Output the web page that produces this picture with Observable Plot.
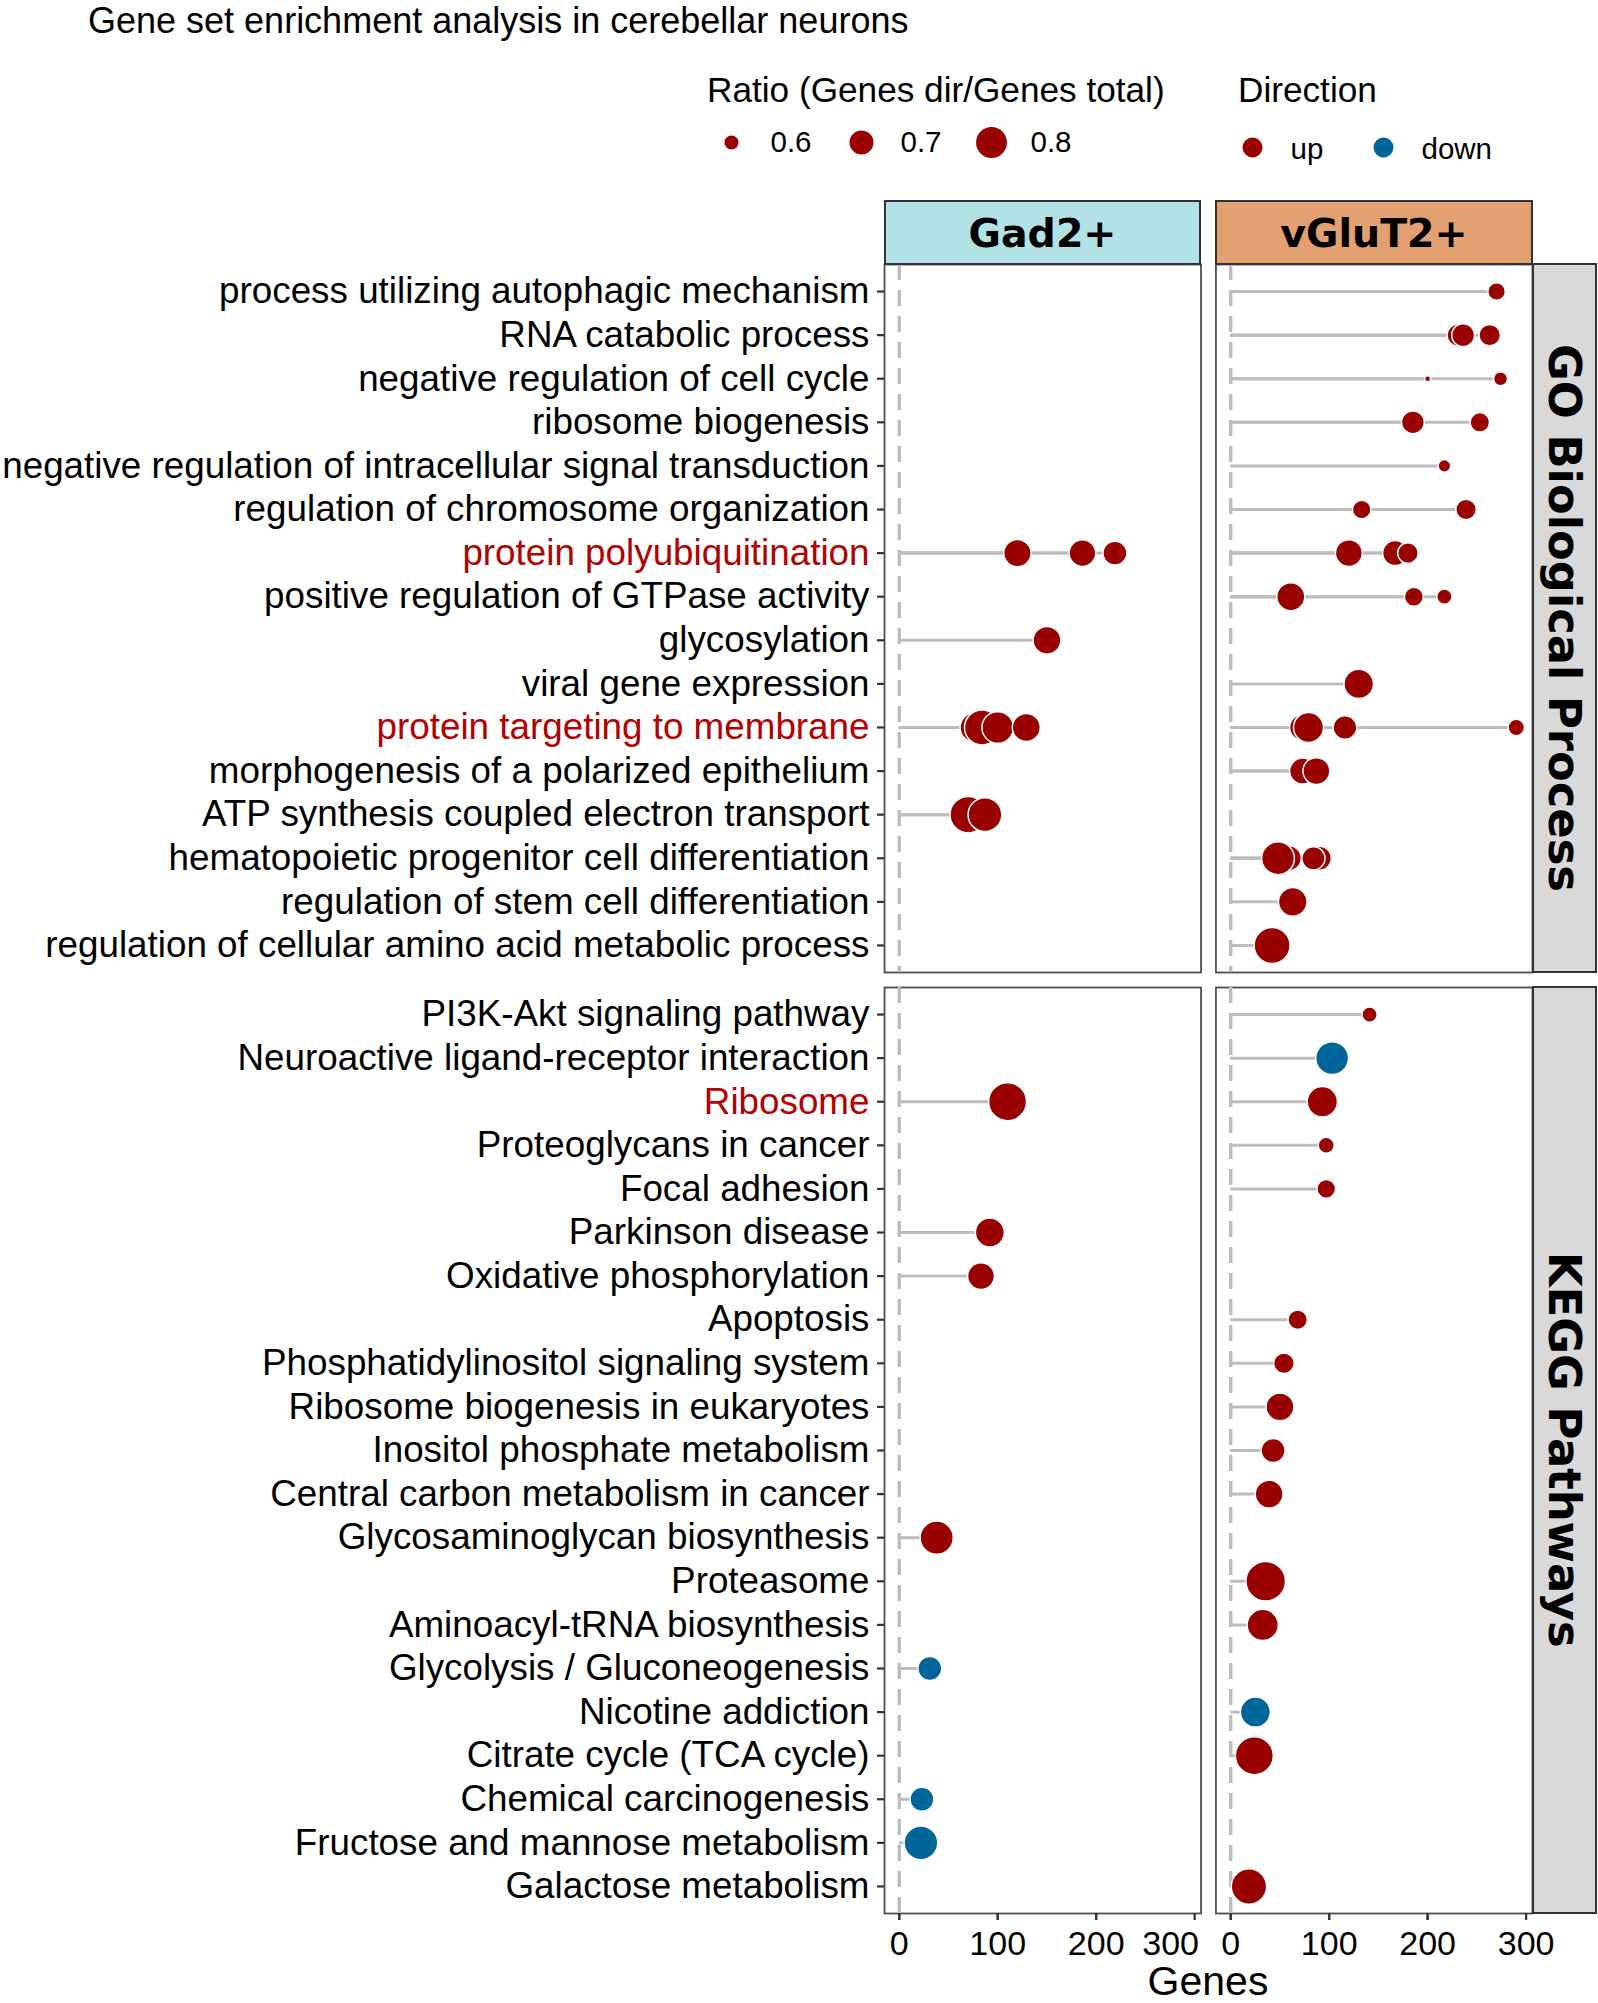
<!DOCTYPE html>
<html>
<head>
<meta charset="utf-8">
<script src="https://cdn.jsdelivr.net/npm/d3@7"></script>
<script src="https://cdn.jsdelivr.net/npm/@observablehq/plot@0.6"></script>
<style>
  body { margin: 0; background: #fff; }
  #root { position: relative; width: 1598px; height: 2003px; overflow: hidden; background: #fff;
          font-family: "Liberation Sans", Arial, Helvetica, sans-serif; color: #000; }
  .abs { position: absolute; white-space: nowrap; line-height: 1; }
  .strip { position: absolute; box-sizing: border-box; border: 2.5px solid #333;
           font-family: "DejaVu Sans", sans-serif; font-weight: bold; display: flex;
           align-items: center; justify-content: center; color: #000; }
  .stripTop { font-size: 39.5px; }
  .stripRight { background: #D9D9D9; font-size: 44.8px; writing-mode: vertical-rl; }
  #root svg { position: absolute; }
</style>
</head>
<body>
<div id="root"></div>
<script>
// ---------------- data ----------------
const cells = ["Gad2+", "vGluT2+"];

const goTerms = [
  "process utilizing autophagic mechanism",
  "RNA catabolic process",
  "negative regulation of cell cycle",
  "ribosome biogenesis",
  "negative regulation of intracellular signal transduction",
  "regulation of chromosome organization",
  "protein polyubiquitination",
  "positive regulation of GTPase activity",
  "glycosylation",
  "viral gene expression",
  "protein targeting to membrane",
  "morphogenesis of a polarized epithelium",
  "ATP synthesis coupled electron transport",
  "hematopoietic progenitor cell differentiation",
  "regulation of stem cell differentiation",
  "regulation of cellular amino acid metabolic process"
];

const keggTerms = [
  "PI3K-Akt signaling pathway",
  "Neuroactive ligand-receptor interaction",
  "Ribosome",
  "Proteoglycans in cancer",
  "Focal adhesion",
  "Parkinson disease",
  "Oxidative phosphorylation",
  "Apoptosis",
  "Phosphatidylinositol signaling system",
  "Ribosome biogenesis in eukaryotes",
  "Inositol phosphate metabolism",
  "Central carbon metabolism in cancer",
  "Glycosaminoglycan biosynthesis",
  "Proteasome",
  "Aminoacyl-tRNA biosynthesis",
  "Glycolysis / Gluconeogenesis",
  "Nicotine addiction",
  "Citrate cycle (TCA cycle)",
  "Chemical carcinogenesis",
  "Fructose and mannose metabolism",
  "Galactose metabolism"
];

const highlighted = ["protein polyubiquitination", "protein targeting to membrane", "Ribosome"];

// [term, genes, ratio, direction]
const goGad2 = [
  ["protein polyubiquitination", 120, 0.747, "up"],
  ["protein polyubiquitination", 186, 0.736, "up"],
  ["protein polyubiquitination", 219, 0.70, "up"],
  ["glycosylation", 150, 0.753, "up"],
  ["protein targeting to membrane", 77, 0.787, "up"],
  ["protein targeting to membrane", 84, 0.873, "up"],
  ["protein targeting to membrane", 100, 0.813, "up"],
  ["protein targeting to membrane", 129, 0.756, "up"],
  ["ATP synthesis coupled electron transport", 70, 0.90, "up"],
  ["ATP synthesis coupled electron transport", 87, 0.85, "up"]
];

const goVglut2 = [
  ["process utilizing autophagic mechanism", 270, 0.63, "up"],
  ["RNA catabolic process", 231, 0.68, "up"],
  ["RNA catabolic process", 236, 0.686, "up"],
  ["RNA catabolic process", 263, 0.67, "up"],
  ["negative regulation of cell cycle", 200, 0.558, "up"],
  ["negative regulation of cell cycle", 274, 0.60, "up"],
  ["ribosome biogenesis", 185, 0.686, "up"],
  ["ribosome biogenesis", 253, 0.648, "up"],
  ["negative regulation of intracellular signal transduction", 217, 0.59, "up"],
  ["regulation of chromosome organization", 133, 0.64, "up"],
  ["regulation of chromosome organization", 239, 0.66, "up"],
  ["protein polyubiquitination", 120, 0.74, "up"],
  ["protein polyubiquitination", 167, 0.714, "up"],
  ["protein polyubiquitination", 180, 0.66, "up"],
  ["positive regulation of GTPase activity", 61, 0.756, "up"],
  ["positive regulation of GTPase activity", 186, 0.644, "up"],
  ["positive regulation of GTPase activity", 217, 0.61, "up"],
  ["viral gene expression", 130, 0.778, "up"],
  ["protein targeting to membrane", 73, 0.727, "up"],
  ["protein targeting to membrane", 79, 0.787, "up"],
  ["protein targeting to membrane", 116, 0.696, "up"],
  ["protein targeting to membrane", 290, 0.62, "up"],
  ["morphogenesis of a polarized epithelium", 73, 0.727, "up"],
  ["morphogenesis of a polarized epithelium", 87, 0.74, "up"],
  ["hematopoietic progenitor cell differentiation", 59, 0.714, "up"],
  ["hematopoietic progenitor cell differentiation", 90, 0.70, "up"],
  ["hematopoietic progenitor cell differentiation", 48, 0.834, "up"],
  ["hematopoietic progenitor cell differentiation", 84, 0.69, "up"],
  ["regulation of stem cell differentiation", 63, 0.765, "up"],
  ["regulation of cellular amino acid metabolic process", 42, 0.89, "up"]
];

const keggGad2 = [
  ["Ribosome", 110, 0.93, "up"],
  ["Parkinson disease", 92, 0.77, "up"],
  ["Oxidative phosphorylation", 83, 0.74, "up"],
  ["Glycosaminoglycan biosynthesis", 38, 0.84, "up"],
  ["Glycolysis / Gluconeogenesis", 31, 0.70, "down"],
  ["Chemical carcinogenesis", 23, 0.70, "down"],
  ["Fructose and mannose metabolism", 22, 0.85, "down"]
];

const keggVglut2 = [
  ["PI3K-Akt signaling pathway", 141, 0.61, "up"],
  ["Neuroactive ligand-receptor interaction", 103, 0.834, "down"],
  ["Ribosome", 93, 0.79, "up"],
  ["Proteoglycans in cancer", 97, 0.616, "up"],
  ["Focal adhesion", 97, 0.64, "up"],
  ["Apoptosis", 68, 0.648, "up"],
  ["Phosphatidylinositol signaling system", 54, 0.66, "up"],
  ["Ribosome biogenesis in eukaryotes", 50, 0.753, "up"],
  ["Inositol phosphate metabolism", 43, 0.70, "up"],
  ["Central carbon metabolism in cancer", 39, 0.753, "up"],
  ["Proteasome", 35.5, 0.964, "up"],
  ["Aminoacyl-tRNA biosynthesis", 32.5, 0.806, "up"],
  ["Nicotine addiction", 25, 0.787, "down"],
  ["Citrate cycle (TCA cycle)", 24, 0.93, "up"],
  ["Galactose metabolism", 18.5, 0.88, "up"]
];

const ratioKeys = [0.6, 0.7, 0.8];
const directions = ["up", "down"];
const directionColors = ["#990000", "#006699"];
const xTicks = [0, 100, 200, 300];

// ---------------- helpers ----------------
const FONT = '"Liberation Sans", Arial, Helvetica, sans-serif';
const RATIO_BASE = 0.548;
const rScale = {type: "sqrt", domain: [0, 0.45], range: [0, 20.6]};
const colorScale = {domain: directions, range: directionColors};
const xScale = {domain: [-15, 306.5], round: false};
const fxScale = {domain: cells, paddingInner: 0.045, paddingOuter: 0, axis: null, round: false};

const toRows = (arr, cell) => arr.map(([term, genes, ratio, dir]) => ({term, genes, ratio, dir, cell}));
const goRows = [...toRows(goGad2, "Gad2+"), ...toRows(goVglut2, "vGluT2+")];
const keggRows = [...toRows(keggGad2, "Gad2+"), ...toRows(keggVglut2, "vGluT2+")];

const root = document.getElementById("root");
function place(el, left, top) { el.style.left = left + "px"; el.style.top = top + "px"; root.appendChild(el); return el; }
function div(cls, text, css) { const d = document.createElement("div"); d.className = cls; d.textContent = text; Object.assign(d.style, css); root.appendChild(d); return d; }

function panel(terms, rows, {height, marginTop, marginBottom, xAxis}) {
  const normal = terms.filter(t => !highlighted.includes(t));
  const hi = terms.filter(t => highlighted.includes(t));
  const yAxisOpts = {tickSize: 7, tickPadding: 8, fontSize: 36.8, stroke: "#333", strokeWidth: 2.2, label: null};
  const marks = [
    Plot.frame({stroke: "#4d4d4d", strokeWidth: 1.8}),
    Plot.ruleX([0], {stroke: "#bdbdbd", strokeWidth: 3.4, strokeDasharray: "16,10"}),
    Plot.ruleY(rows, {fx: "cell", y: "term", x1: 0, x2: "genes", stroke: "#bdbdbd", strokeWidth: 3}),
    Plot.dot(rows, {fx: "cell", x: "genes", y: "term", r: d => d.ratio - RATIO_BASE, fill: "dir",
                    stroke: "white", strokeWidth: 1.5, sort: null}),
    Plot.axisY({ticks: normal, color: "#000", ...yAxisOpts})
  ];
  if (hi.length) marks.push(Plot.axisY({ticks: hi, color: "#b30000", ...yAxisOpts}));
  if (xAxis) {
    const axisBase = {tickSize: 7, stroke: "#333", strokeWidth: 2.2, label: null};
    marks.push(Plot.axisX({ticks: xTicks, tickFormat: () => "", ...axisBase}));
    marks.push(Plot.axisX({ticks: xTicks.filter(v => v < 300), tickPadding: 10, fontSize: 34, color: "#000", ...axisBase}));
    const last = cells.map(c => ({cell: c, tick: xTicks[xTicks.length - 1]}));
    const tOpts = {fx: "cell", x: "tick", text: d => String(d.tick), frameAnchor: "bottom", lineAnchor: "top",
                   dy: 17, fontSize: 34, fill: "#000"};
    marks.push(Plot.text(last.filter(d => d.cell === cells[0]), {...tOpts, dx: -24}));
    marks.push(Plot.text(last.filter(d => d.cell !== cells[0]), {...tOpts}));
  }
  return Plot.plot({
    width: 1598, height, marginLeft: 884, marginRight: 66, marginTop, marginBottom,
    style: {fontFamily: FONT, background: "transparent"},
    x: {...xScale, axis: xAxis ? undefined : null},
    y: {type: "point", domain: terms, padding: 0.62, round: false},
    fx: fxScale,
    r: rScale,
    color: colorScale,
    marks
  });
}

// ---------------- title & legends ----------------
div("abs", "Gene set enrichment analysis in cerebellar neurons", {left: "88px", top: "3px", fontSize: "36px"});
div("abs", "Ratio (Genes dir/Genes total)", {left: "707px", top: "72px", fontSize: "35.2px"});
div("abs", "Direction", {left: "1238px", top: "72px", fontSize: "35.2px"});

const sizeLegend = Plot.plot({
  width: 420, height: 60, margin: 0,
  style: {fontFamily: FONT, background: "transparent"},
  x: {type: "point", domain: ratioKeys, range: [41, 301], padding: 0, axis: null},
  r: rScale,
  marks: [
    Plot.dot(ratioKeys, {x: d => d, r: d => d - RATIO_BASE, fill: directionColors[0], sort: null}),
    Plot.text(ratioKeys, {x: d => d, text: d => d.toFixed(1), dx: 39, textAnchor: "start", fontSize: 29.5, fill: "#000"})
  ]
});
place(sizeLegend, 690, 112);

const dirLegend = Plot.plot({
  width: 260, height: 60, margin: 0,
  style: {fontFamily: FONT, background: "transparent"},
  x: {type: "point", domain: directions, range: [15, 146], padding: 0, axis: null},
  color: colorScale,
  marks: [
    Plot.dot(directions, {x: d => d, fill: d => d, r: 10}),
    Plot.text(directions, {x: d => d, text: d => d, dx: 38, dy: 2.5, textAnchor: "start", fontSize: 29.5, fill: "#000"})
  ]
});
place(dirLegend, 1237, 117);

// ---------------- panels ----------------
const goPlot = panel(goTerms, goRows, {height: 734, marginTop: 14, marginBottom: 12, xAxis: false});
place(goPlot, 0, 250);
const keggPlot = panel(keggTerms, keggRows, {height: 1028, marginTop: 12, marginBottom: 90, xAxis: true});
place(keggPlot, 0, 975);

div("abs", "Genes", {left: "1108px", width: "200px", textAlign: "center", top: "1961px", fontSize: "41px"});

// strips
div("strip stripTop", cells[0], {left: "884px", top: "200px", width: "317px", height: "65px", background: "#B2E2E6"});
div("strip stripTop", cells[1], {left: "1215px", top: "200px", width: "318px", height: "65px", background: "#E3A070"});
div("strip stripRight", "GO Biological Process", {left: "1532px", top: "263px", width: "65px", height: "710px"});
div("strip stripRight", "KEGG Pathways", {left: "1532px", top: "986px", width: "65px", height: "928px"});
</script>
</body>
</html>
